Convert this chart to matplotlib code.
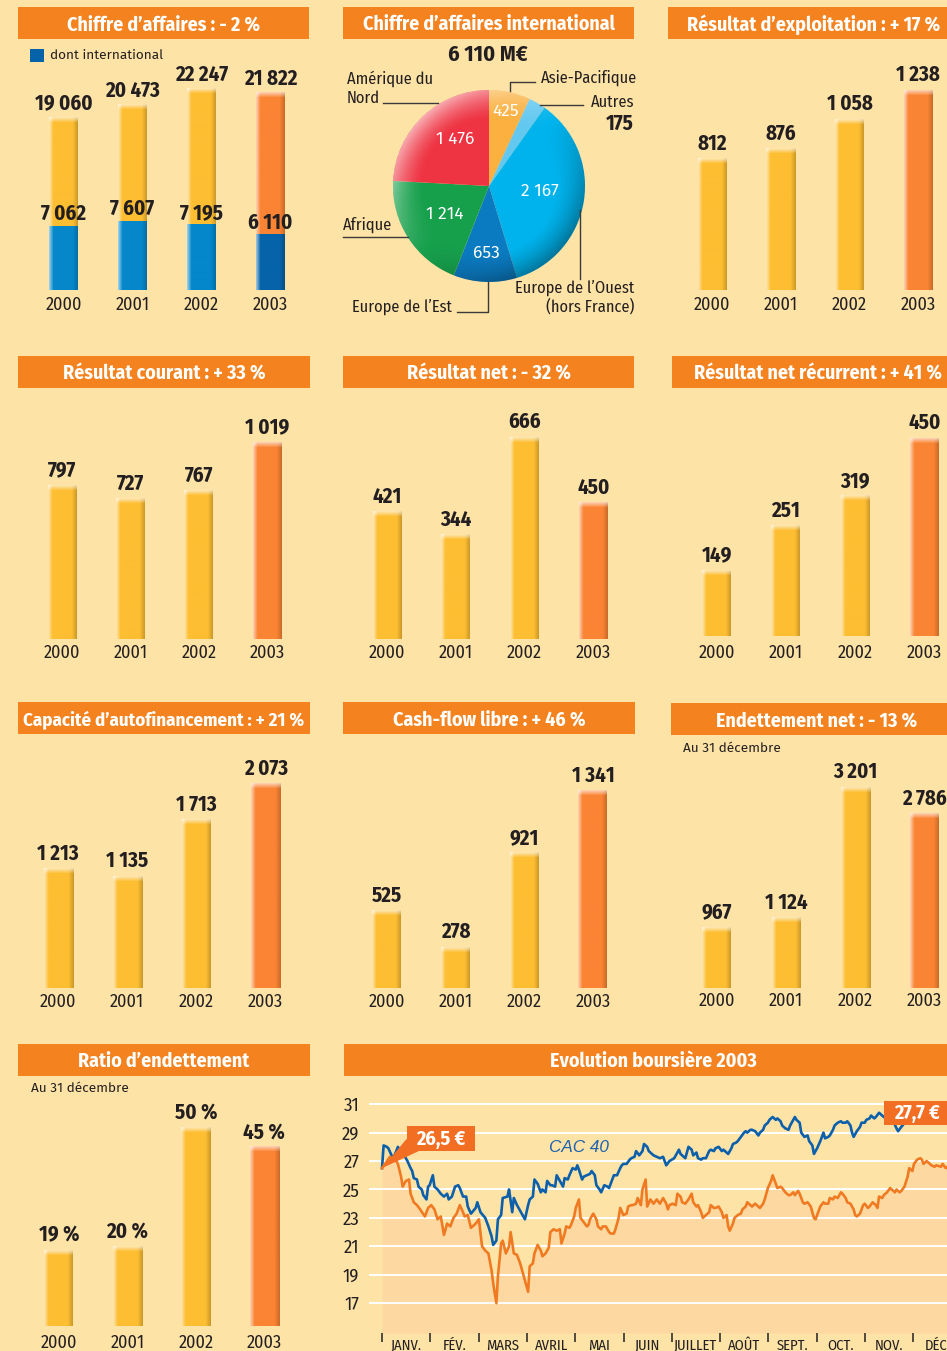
import numpy as np
import matplotlib
matplotlib.use('Agg')
import matplotlib.pyplot as plt
import matplotlib.colors as mcolors
import matplotlib.transforms as mtransforms
from matplotlib.patches import Rectangle, Polygon, Circle
from matplotlib.lines import Line2D

# ---- data -------------------------------------------------------------
years = ['2000', '2001', '2002', '2003']
ca_total = [19060, 20473, 22247, 21822]
ca_intl = [7062, 7607, 7195, 6110]
res_expl = [812, 876, 1058, 1238]
res_courant = [797, 727, 767, 1019]
res_net = [421, 344, 666, 450]
res_net_rec = [149, 251, 319, 450]
caf = [1213, 1135, 1713, 2073]
cash_flow = [525, 278, 921, 1341]
endettement = [967, 1124, 3201, 2786]
ratio = [19, 20, 50, 45]

pie_regions = ['Asie-Pacifique', 'Autres', "Europe de l'Ouest", "Europe de l'Est",
               'Afrique', 'Amérique du Nord']
pie_values = [425, 175, 2167, 653, 1214, 1476]

months = ['JANV.', 'FÉV.', 'MARS', 'AVRIL', 'MAI', 'JUIN', 'JUILLET', 'AOÛT',
          'SEPT.', 'OCT.', 'NOV.', 'DÉC.']

# Total share price (EUR) 2003, day of year
total_day = [0, 5, 7, 9, 10, 12, 13, 15, 17, 18, 20, 22, 24, 27, 29, 31, 33, 35, 37, 39,
             41, 43, 45, 47, 49, 51, 52, 54, 56, 59, 61, 63, 65, 67, 69, 70, 72, 73, 75, 76,
             78, 80, 81, 83, 85, 87, 89, 92, 93, 95, 96, 98, 100, 101, 103, 105, 106, 108, 110, 112,
             113, 115, 116, 118, 119, 121, 122, 124, 125, 127, 129, 130, 131, 133, 135, 136, 138, 139, 141, 143,
             144, 146, 147, 149, 150, 152, 154, 155, 157, 158, 160, 161, 163, 164, 166, 167, 169, 171, 173, 175,
             177, 179, 180, 181, 183, 185, 186, 188, 189, 191, 193, 195, 196, 198, 199, 201, 202, 204, 206, 207,
             209, 210, 212, 214, 215, 217, 218, 219, 221, 222, 224, 226, 227, 229, 230, 232, 233, 235, 237, 238,
             240, 241, 243, 245, 246, 248, 249, 251, 252, 254, 256, 257, 259, 260, 262, 263, 265, 266, 268, 270,
             271, 272, 273, 274, 276, 278, 279, 281, 282, 284, 285, 287, 289, 290, 292, 293, 295, 297, 298, 299,
             301, 303, 304, 306, 307, 309, 311, 312, 313, 315, 316, 318, 320, 321, 323, 324, 326, 327, 329, 331,
             332, 334, 335, 337, 339, 340, 341, 343, 345, 346, 348, 349, 352, 353, 355, 356]
total_eur = [26.5, 27.3, 27.1, 27.0, 26.8, 25.9, 25.2, 25.6, 25.7, 24.7, 24.1, 23.9, 23.6, 23.1, 23.7, 23.9, 23.6, 22.9, 23.1, 21.8,
             22.6, 22.4, 23.0, 23.3, 23.9, 23.4, 23.1, 23.2, 22.3, 22.6, 22.9, 21.0, 20.7, 20.5, 19.3, 18.4, 17.0, 18.9, 21.2, 21.4,
             20.5, 21.0, 22.0, 20.5, 20.4, 19.8, 19.0, 17.8, 19.6, 19.8, 20.5, 21.1, 20.7, 20.3, 20.5, 20.9, 22.0, 22.2, 22.1, 22.2,
             21.2, 21.9, 22.4, 22.3, 22.5, 23.1, 23.7, 24.3, 23.0, 22.7, 22.4, 22.5, 22.9, 23.3, 22.9, 22.4, 22.2, 22.4, 22.4, 22.0,
             21.9, 21.9, 22.2, 23.0, 23.7, 23.2, 23.3, 23.8, 23.9, 23.9, 24.0, 24.4, 23.9, 25.0, 25.7, 23.8, 24.3, 24.0, 24.3, 24.0,
             24.4, 24.0, 23.6, 23.9, 24.0, 23.9, 24.7, 24.5, 24.1, 24.0, 24.3, 24.7, 24.1, 23.8, 23.9, 23.4, 23.0, 23.2, 23.4, 23.9,
             23.7, 23.7, 23.8, 23.4, 23.0, 23.2, 22.4, 22.1, 22.6, 23.0, 23.2, 23.3, 23.6, 23.8, 24.1, 23.9, 23.8, 24.0, 23.8, 23.7,
             24.0, 24.3, 25.1, 25.6, 26.0, 25.4, 25.1, 25.2, 25.1, 24.8, 24.6, 24.6, 24.8, 24.6, 24.9, 24.7, 24.1, 24.0, 24.1, 23.8,
             23.4, 23.0, 22.9, 23.2, 23.8, 24.1, 24.0, 24.0, 24.4, 24.3, 24.5, 24.4, 24.8, 24.7, 24.4, 24.1, 24.0, 23.6, 23.2, 23.1,
             23.3, 23.9, 24.0, 23.7, 23.8, 24.1, 23.9, 23.7, 24.5, 24.4, 24.6, 24.8, 25.1, 25.0, 24.8, 25.0, 24.8, 24.9, 25.2, 25.9,
             26.5, 26.3, 26.8, 27.1, 27.2, 27.1, 26.8, 27.0, 26.8, 26.7, 26.6, 26.7, 26.6, 26.8, 26.5, 26.6]

# CAC 40 rebased on the share price
cac_day = [0, 1, 3, 4, 6, 7, 9, 10, 11, 13, 14, 16, 18, 19, 20, 22, 23, 25, 26, 28,
           29, 30, 32, 33, 35, 37, 39, 41, 42, 44, 46, 48, 49, 51, 53, 54, 56, 59, 60, 62,
           65, 67, 69, 70, 72, 73, 75, 76, 79, 80, 82, 83, 85, 86, 88, 90, 92, 93, 95, 96,
           98, 100, 101, 103, 104, 106, 107, 109, 110, 112, 114, 115, 117, 118, 120, 122, 123, 124, 126, 127,
           129, 131, 132, 134, 135, 137, 138, 140, 142, 143, 145, 146, 148, 150, 151, 152, 154, 156, 157, 159,
           160, 162, 164, 165, 167, 168, 171, 173, 175, 177, 179, 181, 184, 185, 187, 188, 190, 191, 193, 195,
           196, 198, 199, 201, 202, 204, 206, 207, 209, 210, 212, 214, 215, 217, 218, 220, 221, 223, 224, 226,
           228, 229, 230, 232, 233, 235, 237, 238, 240, 241, 243, 244, 246, 248, 249, 251, 252, 254, 256, 257,
           259, 260, 261, 263, 264, 266, 268, 269, 271, 272, 274, 276, 278, 279, 281, 282, 284, 285, 287, 289,
           290, 292, 293, 295, 296, 297, 299, 301, 302, 304, 305, 307, 308, 310, 311, 313, 314, 316, 318, 320,
           322, 324, 325, 327, 330, 335, 340, 345, 350, 356]
cac_val = [26.5, 28.1, 28.0, 27.9, 27.4, 27.2, 27.7, 28.0, 27.8, 27.9, 27.4, 27.0, 26.5, 26.3, 25.8, 25.7, 25.2, 25.0, 24.6, 24.3,
           25.2, 25.3, 26.0, 25.2, 25.0, 24.7, 24.5, 24.7, 24.3, 24.5, 25.2, 25.3, 25.1, 24.5, 24.5, 23.8, 23.3, 23.7, 24.1, 23.4,
           23.0, 22.4, 21.7, 21.1, 21.4, 22.9, 23.2, 24.4, 24.5, 25.0, 23.4, 24.4, 23.9, 23.7, 23.3, 22.9, 23.9, 24.3, 24.5, 25.7,
           25.4, 24.8, 25.0, 24.8, 25.6, 25.3, 25.3, 25.2, 26.0, 25.6, 25.2, 25.8, 25.7, 26.0, 26.5, 26.4, 26.7, 26.4, 25.7, 25.9,
           26.0, 26.1, 26.3, 26.0, 25.3, 25.0, 24.8, 25.3, 25.2, 25.1, 25.7, 26.0, 26.0, 26.5, 26.7, 26.8, 26.8, 27.1, 27.2, 27.3,
           27.7, 27.4, 27.7, 28.2, 28.0, 27.7, 27.4, 27.3, 27.2, 27.3, 26.7, 27.0, 27.2, 27.4, 27.8, 27.5, 27.3, 27.2, 28.0, 27.8,
           27.4, 27.6, 27.2, 27.1, 27.2, 27.2, 27.7, 27.8, 27.7, 27.9, 28.0, 27.7, 27.8, 27.6, 27.5, 27.9, 28.2, 28.3, 28.4, 28.7,
           29.0, 29.1, 29.0, 29.2, 29.2, 29.1, 28.8, 29.0, 29.2, 29.5, 29.7, 29.9, 30.1, 29.9, 30.0, 29.8, 29.5, 29.3, 29.2, 29.5,
           29.9, 30.1, 29.9, 29.7, 29.0, 28.7, 28.8, 28.4, 28.1, 27.5, 27.9, 28.4, 29.0, 28.6, 28.7, 28.8, 29.2, 29.5, 29.7, 29.8,
           29.7, 29.7, 29.8, 29.5, 29.0, 28.7, 29.1, 29.4, 29.7, 29.7, 29.9, 30.0, 30.2, 30.0, 30.1, 30.4, 30.3, 30.1, 30.0, 29.9,
           29.8, 29.3, 29.1, 29.4, 29.8, 30.1, 30.3, 30.5, 30.6, 30.7]

# ---- style ------------------------------------------------------------
W, H = 947, 1351
BG = '#FEE3A7'
HEAD = '#F3821F'
DARK = '#231F20'
YEL = '#FDBE32'
ORA = '#FA8434'
BLUE = '#0587CB'
BLUE_DK = '#0563A9'
BOX = '#F26E22'
FILL = '#FDD9A1'

COND = ['Fira Sans Condensed', 'DejaVu Sans']
REGF = ['Fira Sans', 'Open Sans', 'DejaVu Sans']
plt.rcParams['font.family'] = COND

fig = plt.figure(figsize=(W / 100, H / 100), dpi=100, facecolor=BG)
PX = mtransforms.Affine2D().scale(1, -1).translate(0, H)   # top-left pixel coords


def ftext(x, y, s, **kw):
    kw.setdefault('color', DARK)
    kw.setdefault('va', 'center')
    return fig.text(x, y, s, transform=PX, **kw)


def fline(xs, ys):
    fig.add_artist(Line2D(xs, ys, transform=PX, color='#3A3A3A', lw=1.0))


def axes_px(x, y, w, h):
    ax = fig.add_axes([x / W, 1 - (y + h) / H, w / W, h / H])
    ax.patch.set_alpha(0)
    return ax


def header(x0, x1, y0, y1, text, cx=None, size=14.3):
    fig.add_artist(Rectangle((x0, y0), x1 - x0, y1 - y0, transform=PX, fc=HEAD, ec='none'))
    ftext(cx if cx else (x0 + x1) / 2, (y0 + y1) / 2 + 1.5, text, ha='center',
          color='white', fontsize=size, fontweight='bold')


def fmt(v):
    return f'{v:,}'.replace(',', ' ')


def shade(ax, bars, top=True):
    for b in bars:
        x0, y0, w, h = b.get_x(), b.get_y(), b.get_width(), b.get_height()
        (px0, py0), (px1, py1) = ax.transData.transform([(x0, y0), (x0 + w, y0 + h)])
        nc = max(int(round(px1 - px0)), 2)
        nr = max(int(round(py1 - py0)), 2)
        base = np.array(mcolors.to_rgb(b.get_facecolor()))
        t = (np.arange(nc) + 0.5) / nc
        lt = np.clip(1 - t / 0.16, 0, 1) * 0.65
        dk = np.clip((t - 0.82) / 0.18, 0, 1) * 0.2
        row = base * (1 - lt[:, None]) + lt[:, None]
        row = row * (1 - dk[:, None])
        img = np.repeat(row[None, :, :], nr, axis=0)
        if top:
            k = np.clip(1 - np.arange(nr) / 5.0, 0, 1)[:, None, None] * 0.6
            img = img * (1 - k) + k
        ax.imshow(img, extent=(x0, x0 + w, y0, y0 + h), aspect='auto',
                  origin='upper', interpolation='bilinear', zorder=3)


def bar_panel(vals, c0, s, base, scale, labels=None, year_off=15, lab_off=15, axh=240):
    ax = axes_px(c0 - s / 2, base - axh, 4 * s, axh)
    ax.axis('off')
    ax.set_xlim(-0.5, 3.5)
    ax.set_ylim(0, axh / scale)
    bars = ax.bar(range(4), vals, width=29 / s, color=[YEL, YEL, YEL, ORA], zorder=2)
    shade(ax, bars)
    labels = labels or [fmt(v) for v in vals]
    for i, v in enumerate(vals):
        ax.annotate(labels[i], (i, v), xytext=(0, lab_off), textcoords='offset pixels',
                    ha='center', va='center', fontsize=15, fontweight='bold', color=DARK,
                    annotation_clip=False)
        ax.annotate(years[i], (i, 0), xytext=(0, -year_off), textcoords='offset pixels',
                    ha='center', va='center', fontsize=13, color=DARK, annotation_clip=False)
    ax.set_xlim(-0.5, 3.5)
    ax.set_ylim(0, axh / scale)
    return ax


# ---- row 1 ------------------------------------------------------------
header(18, 309, 7, 39, 'Chiffre d’affaires : - 2 %')
header(343, 634, 7, 39, 'Chiffre d’affaires international')
header(668, 960, 7, 39, 'Résultat d’exploitation : + 17 %')

ax1 = bar_panel(ca_total, 63.5, 69, 290, 0.00905, lab_off=14)
ib = ax1.bar(range(4), ca_intl, width=29 / 69, color=[BLUE, BLUE, BLUE, BLUE_DK], zorder=4)
shade(ax1, ib, top=False)
for im in ax1.images[4:]:
    im.set_zorder(5)
for i, v in enumerate(ca_intl):
    ax1.annotate(fmt(v), (i, v), xytext=(0, 12), textcoords='offset pixels', ha='center',
                 va='center', fontsize=15, fontweight='bold', color=DARK, annotation_clip=False,
                 zorder=6)
ax1.set_xlim(-0.5, 3.5)
ax1.set_ylim(0, 240 / 0.00905)
fig.add_artist(Rectangle((30, 49), 14, 13, transform=PX, fc=BLUE_DK, ec='none'))
ftext(50, 55.5, 'dont international', fontsize=9.8, family=REGF)

# pie
axp = axes_px(489 - 96, 186 - 96, 192, 192)
pie_colors = ['#FBB040', '#62C8F0', '#00B3EC', '#0B7BC1', '#17A04C', '#EE3342']
wedges, _ = axp.pie(pie_values, colors=pie_colors, startangle=90, counterclock=False,
                    radius=1, wedgeprops=dict(linewidth=0))
axp.set_xlim(-1, 1)
axp.set_ylim(-1, 1)
axp.set_aspect('equal')
n = 300
yy, xx = np.mgrid[1:-1:n * 1j, -1:1:n * 1j]
rr = np.hypot(xx, yy)
dd = (-xx + yy) / np.sqrt(2) / np.maximum(rr, 1e-6)
rim = np.clip((rr - 0.68) / 0.32, 0, 1) ** 1.5
img = np.zeros((n, n, 4))
img[..., :3] = np.where((dd > 0)[..., None], 1.0, 0.0)
img[..., 3] = np.where(dd > 0, 0.6 * rim * np.clip(dd, 0, 1), 0.35 * rim * np.clip(-dd, 0, 1))
pim = axp.imshow(img, extent=(-1, 1, -1, 1), zorder=3, interpolation='bilinear')
pim.set_clip_path(Circle((0, 0), 1, transform=axp.transData))
axp.set_xlim(-1, 1)
axp.set_ylim(-1, 1)
label_r = [0.8, None, 0.53, 0.7, 0.55, 0.6]
label_da = [0, 0, 3, 0, 0, -8]
for w, v, r, da in zip(wedges, pie_values, label_r, label_da):
    if r is None:
        continue
    a = np.deg2rad((w.theta1 + w.theta2) / 2 + da)
    axp.text(r * np.cos(a), r * np.sin(a), fmt(v), ha='center', va='center', color='white',
             fontsize=12.5, zorder=5, family=REGF)

ftext(488, 55, '6 110 M€', ha='center', fontsize=16, fontweight='bold')
OUT = 11.8
ftext(347, 79, 'Amérique du', fontsize=OUT)
ftext(347, 98, 'Nord', fontsize=OUT)
fline([383, 438], [103, 103])
ftext(541, 78, 'Asie-Pacifique', fontsize=OUT)
fline([510, 510, 535], [91, 82, 82])
ftext(634, 102, 'Autres', ha='right', fontsize=OUT)
ftext(634, 124, fmt(pie_values[1]), ha='right', fontsize=15, fontweight='bold')
fline([540, 583], [105, 105])
ftext(343, 225, 'Afrique', fontsize=OUT)
fline([343, 408], [237, 237])
ftext(352, 307, 'Europe de l’Est', fontsize=OUT)
fline([457, 488, 488], [311.5, 311.5, 282])
ftext(634, 288, 'Europe de l’Ouest', ha='right', fontsize=OUT)
ftext(634, 307, '(hors France)', ha='right', fontsize=OUT)
fline([580, 580], [210, 279])

bar_panel(res_expl, 712, 68.8, 290, 0.1615)

# ---- row 2 ------------------------------------------------------------
header(18, 310, 356, 388, 'Résultat courant : + 33 %')
header(343, 634, 356, 388, 'Résultat net : - 32 %')
header(672, 964, 356, 388, 'Résultat net récurrent : + 41 %')
bar_panel(res_courant, 62.2, 68.3, 639, 0.193, year_off=14)
bar_panel(res_net, 387, 68.8, 639, 0.303, year_off=14)
bar_panel(res_net_rec, 716.7, 69.2, 636, 0.44, year_off=17)

# ---- row 3 ------------------------------------------------------------
header(18, 310, 702, 734, 'Capacité d’autofinancement : + 21 %', size=13.6)
header(343, 635, 702, 734, 'Cash-flow libre : + 46 %')
header(671, 963, 703, 735, 'Endettement net : - 13 %')
ftext(683, 748, 'Au 31 décembre', fontsize=9.8, family=REGF)
bar_panel(caf, 58, 69.2, 988, 0.0985, year_off=14)
bar_panel(cash_flow, 386.8, 68.7, 988, 0.147, year_off=14)
bar_panel(endettement, 716.7, 69.3, 988, 0.0627, year_off=13)

# ---- row 4 ------------------------------------------------------------
header(18, 310, 1044, 1076, 'Ratio d’endettement')
header(344, 962, 1044, 1076, 'Evolution boursière 2003')
ftext(31, 1088, 'Au 31 décembre', fontsize=9.8, family=REGF)
bar_panel(ratio, 58.8, 68.5, 1326, 3.98, labels=[f'{v} %' for v in ratio], year_off=17)

# stock chart
axs = axes_px(369, 1090, 578, 243)
ymin = 14.9
axs.fill_between(total_day, total_eur, ymin, color=FILL, lw=0, zorder=1)
axs.plot(cac_day, cac_val, color='#0B5FAB', lw=1.9, zorder=3, solid_joinstyle='round')
axs.plot(total_day, total_eur, color='#F07A22', lw=1.9, zorder=4, solid_joinstyle='round')
axs.set_xlim(-8.2, 355.8)
axs.set_ylim(ymin, 32.0)
axs.set_yticks(range(17, 32, 2))
axs.grid(axis='y', color='white', lw=1.4, zorder=2)
for sp in axs.spines.values():
    sp.set_visible(False)
axs.tick_params(axis='y', length=0, pad=7, labelsize=13.5, labelcolor=DARK)
mlen = 365 / 12
axs.set_xticks([k * mlen for k in range(12)])
axs.set_xticklabels([])
axs.tick_params(axis='x', which='major', length=6.5, width=1.1, color=DARK, direction='out')
axs.set_xticks([(k + 0.5) * mlen for k in range(12)], minor=True)
axs.set_xticklabels(months, minor=True)
axs.tick_params(axis='x', which='minor', length=0, pad=4, labelsize=10.5, labelcolor=DARK)

ftext(579, 1148, 'CAC 40', ha='center', fontsize=12.3, style='italic', color='#1D63AE',
      family=['Liberation Sans', 'DejaVu Sans'])

tip = axs.transData.transform((total_day[0], total_eur[0]))
tip = (tip[0], H - tip[1])
fig.add_artist(Polygon([(406.5, 1139), (419, 1151), tip], closed=True, transform=PX,
                       fc=BOX, ec='none'))
fig.add_artist(Rectangle((406.5, 1126), 68.5, 25, transform=PX, fc=BOX, ec='none'))
ftext(440.5, 1139, '26,5 €', ha='center', color='white', fontsize=14.5, fontweight='bold')
fig.add_artist(Rectangle((884, 1100.5), 70, 24.5, transform=PX, fc=BOX, ec='none'))
ftext(916.5, 1113.5, '27,7 €', ha='center', color='white', fontsize=14.5, fontweight='bold')

fig.savefig('out.png', dpi=100, facecolor=BG)
